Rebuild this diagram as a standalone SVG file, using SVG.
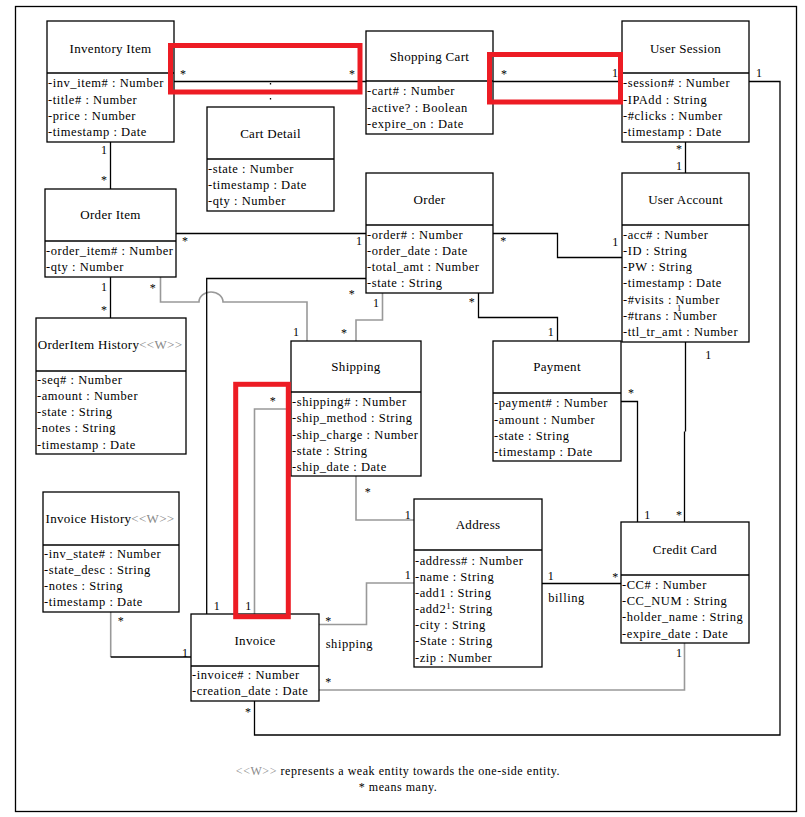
<svg xmlns="http://www.w3.org/2000/svg" width="805" height="817" viewBox="0 0 805 817" font-family="'Liberation Serif', 'Times New Roman', serif">
<style>
text{font-family:"Liberation Serif","Times New Roman",serif;fill:#000}
.ti{font-size:13px;text-anchor:middle;letter-spacing:0.3px}
.a{font-size:12.5px;letter-spacing:0.55px}
.l{font-size:12px;text-anchor:middle}
.w{fill:#8a8a8a}
.box{fill:#fff;stroke:#000;stroke-width:1.3}
.dv{stroke:#000;stroke-width:1.3}
.c{fill:none;stroke:#000;stroke-width:1.3}
.g{fill:none;stroke:#999;stroke-width:1.6}
.red{fill:none;stroke:#ED1C24;stroke-width:5}
</style>
<rect x="15.5" y="6.5" width="781" height="805" fill="#fff" stroke="#000" stroke-width="1.3"/>

<g id="connectors">
<path class="c" d="M174 81.5H366"/>
<path class="c" d="M270.5 83V107" stroke-dasharray="1.5 13.5"/>
<path class="c" d="M493 81.5H622"/>
<path class="c" d="M685.5 142V173"/>
<path class="c" d="M110.5 142V189"/>
<path class="c" d="M176 233.5H366"/>
<path class="c" d="M110.5 277V318"/>
<path class="g" d="M160.5 277V302H199A12 10 0 0 1 223 302H307V341"/>
<path class="c" d="M366 278.5H206.7V614"/>
<path class="g" d="M382.5 293V320H356V341"/>
<path class="g" d="M291 409H254.5V614"/>
<path class="c" d="M478.5 293V317.5H557.5V341"/>
<path class="c" d="M493 233.5H557.5V257.5H622"/>
<path class="c" d="M685.5 342V431.5M684.5 431.5V522"/>
<path class="c" d="M621 401.5H637.5V522"/>
<path class="g" d="M356 476V520H414"/>
<path class="g" d="M414 583H366.5V624.5H319"/>
<path class="c" d="M542 583.5H621"/>
<path class="g" d="M684.5 643V690H319"/>
<path class="g" d="M110.7 612V657"/>
<path class="c" d="M110.7 657H191"/>
<path class="c" d="M254.5 701V735H780V81.5H749"/>
<g id="connector-labels">
<text class="l" x="183" y="78">*</text>
<text class="l" x="352" y="78">*</text>
<text class="l" x="504" y="78">*</text>
<text class="l" x="615" y="77">1</text>
<text class="l" x="679" y="153">*</text>
<text class="l" x="679" y="170">1</text>
<text class="l" x="104" y="154">1</text>
<text class="l" x="104" y="184">*</text>
<text class="l" x="185" y="245">*</text>
<text class="l" x="359" y="245">1</text>
<text class="l" x="104" y="291">1</text>
<text class="l" x="104" y="314">*</text>
<text class="l" x="152.7" y="292">*</text>
<text class="l" x="296" y="336">1</text>
<text class="l" x="351.7" y="298">*</text>
<text class="l" x="216.7" y="610">1</text>
<text class="l" x="376" y="307">1</text>
<text class="l" x="344" y="337">*</text>
<text class="l" x="272.7" y="405">*</text>
<text class="l" x="248.3" y="610">1</text>
<text class="l" x="471.7" y="306">*</text>
<text class="l" x="550.7" y="336">1</text>
<text class="l" x="503.3" y="245">*</text>
<text class="l" x="615.3" y="246">1</text>
<text class="l" x="708.3" y="359">1</text>
<text class="l" x="679" y="519">*</text>
<text class="l" x="631" y="397">*</text>
<text class="l" x="647.3" y="519">1</text>
<text class="l" x="367.7" y="496">*</text>
<text class="l" x="407.7" y="518.5">1</text>
<text class="l" x="407.7" y="579">1</text>
<text class="l" x="328.3" y="625">*</text>
<text class="a" x="325.7" y="648">shipping</text>
<text class="l" x="550.7" y="580">1</text>
<text class="l" x="615.3" y="581">*</text>
<text class="a" x="548.3" y="602">billing</text>
<text class="l" x="679" y="656.5">1</text>
<text class="l" x="328.3" y="686">*</text>
<text class="l" x="120.7" y="625">*</text>
<text class="l" x="185" y="656.5">1</text>
<text class="l" x="248" y="716">*</text>
<text class="l" x="759" y="77">1</text>
</g>
</g>

<g id="inventory-item">
<rect class="box" x="47" y="21" width="127" height="121"/>
<line class="dv" x1="47" y1="73" x2="174" y2="73"/>
<text class="ti" x="110.5" y="52.5">Inventory Item</text>
<text class="a" x="48" y="87">-inv_item# : Number</text>
<text class="a" x="48" y="103.5">-title# : Number</text>
<text class="a" x="48" y="119.5">-price : Number</text>
<text class="a" x="48" y="136">-timestamp : Date</text>
</g>

<g id="shopping-cart">
<rect class="box" x="366" y="31" width="127" height="103"/>
<line class="dv" x1="366" y1="81" x2="493" y2="81"/>
<text class="ti" x="429.5" y="60.5">Shopping Cart</text>
<text class="a" x="367" y="95">-cart# : Number</text>
<text class="a" x="367" y="111.5">-active? : Boolean</text>
<text class="a" x="367" y="128">-expire_on : Date</text>
</g>

<g id="cart-detail">
<rect class="box" x="207" y="107" width="127" height="104"/>
<line class="dv" x1="207" y1="159" x2="334" y2="159"/>
<text class="ti" x="270.5" y="137.5">Cart Detail</text>
<text class="a" x="208" y="173">-state : Number</text>
<text class="a" x="208" y="189">-timestamp : Date</text>
<text class="a" x="208" y="205">-qty : Number</text>
</g>

<g id="user-session">
<rect class="box" x="622" y="21" width="127" height="121"/>
<line class="dv" x1="622" y1="73" x2="749" y2="73"/>
<text class="ti" x="685.5" y="52.5">User Session</text>
<text class="a" x="623" y="87">-session# : Number</text>
<text class="a" x="623" y="103.5">-IPAdd : String</text>
<text class="a" x="623" y="119.5">-#clicks : Number</text>
<text class="a" x="623" y="136">-timestamp : Date</text>
</g>

<g id="user-account">
<rect class="box" x="622" y="173" width="127" height="169"/>
<line class="dv" x1="622" y1="225" x2="749" y2="225"/>
<text class="ti" x="685.5" y="203.5">User Account</text>
<text class="a" x="623" y="239">-acc# : Number</text>
<text class="a" x="623" y="255">-ID : String</text>
<text class="a" x="623" y="271">-PW : String</text>
<text class="a" x="623" y="287">-timestamp : Date</text>
<text class="a" x="623" y="303.5">-#visits : Number</text>
<text class="a" x="623" y="320">-#trans : Number</text>
<text class="a" x="623" y="336">-ttl_tr_amt : Number</text>
<text x="679" y="311" font-size="8.5" text-anchor="middle">1</text>
</g>

<g id="order-item">
<rect class="box" x="45" y="189" width="131" height="88"/>
<line class="dv" x1="45" y1="241" x2="176" y2="241"/>
<text class="ti" x="110.5" y="219">Order Item</text>
<text class="a" x="46" y="255">-order_item# : Number</text>
<text class="a" x="46" y="271">-qty : Number</text>
</g>

<g id="orderitem-history">
<rect class="box" x="36" y="318" width="150" height="136"/>
<line class="dv" x1="36" y1="371" x2="186" y2="371"/>
<text class="ti" x="110" y="348.5">OrderItem History<tspan class="w">&lt;&lt;W&gt;&gt;</tspan></text>
<text class="a" x="37" y="384">-seq# : Number</text>
<text class="a" x="37" y="400">-amount : Number</text>
<text class="a" x="37" y="416">-state : String</text>
<text class="a" x="37" y="432">-notes : String</text>
<text class="a" x="37" y="448.5">-timestamp : Date</text>
</g>

<g id="order">
<rect class="box" x="366" y="173" width="127" height="120"/>
<line class="dv" x1="366" y1="225" x2="493" y2="225"/>
<text class="ti" x="429.5" y="203.5">Order</text>
<text class="a" x="367" y="239">-order# : Number</text>
<text class="a" x="367" y="255">-order_date : Date</text>
<text class="a" x="367" y="271">-total_amt : Number</text>
<text class="a" x="367" y="287">-state : String</text>
</g>

<g id="shipping">
<rect class="box" x="291" y="341" width="130" height="135"/>
<line class="dv" x1="291" y1="392" x2="421" y2="392"/>
<text class="ti" x="356" y="371">Shipping</text>
<text class="a" x="292" y="405.5">-shipping# : Number</text>
<text class="a" x="292" y="422">-ship_method : String</text>
<text class="a" x="292" y="438.5">-ship_charge : Number</text>
<text class="a" x="292" y="455">-state : String</text>
<text class="a" x="292" y="471">-ship_date : Date</text>
</g>

<g id="payment">
<rect class="box" x="493" y="341" width="128" height="120"/>
<line class="dv" x1="493" y1="393" x2="621" y2="393"/>
<text class="ti" x="557" y="371">Payment</text>
<text class="a" x="494" y="407">-payment# : Number</text>
<text class="a" x="494" y="423.5">-amount : Number</text>
<text class="a" x="494" y="440">-state : String</text>
<text class="a" x="494" y="456">-timestamp : Date</text>
</g>

<g id="credit-card">
<rect class="box" x="621" y="522" width="128" height="121"/>
<line class="dv" x1="621" y1="575" x2="749" y2="575"/>
<text class="ti" x="685" y="553.5">Credit Card</text>
<text class="a" x="622" y="589">-CC# : Number</text>
<text class="a" x="622" y="605">-CC_NUM : String</text>
<text class="a" x="622" y="621">-holder_name : String</text>
<text class="a" x="622" y="637.5">-expire_date : Date</text>
</g>

<g id="address">
<rect class="box" x="414" y="499" width="128" height="168"/>
<line class="dv" x1="414" y1="550" x2="542" y2="550"/>
<text class="ti" x="478" y="529">Address</text>
<text class="a" x="415" y="564.5">-address# : Number</text>
<text class="a" x="415" y="581">-name : String</text>
<text class="a" x="415" y="597">-add1 : String</text>
<text class="a" x="415" y="613">-add2<tspan font-size="9" dy="-4">1</tspan><tspan dy="4">: String</tspan></text>
<text class="a" x="415" y="629">-city : String</text>
<text class="a" x="415" y="645">-State : String</text>
<text class="a" x="415" y="661.5">-zip : Number</text>
</g>

<g id="invoice">
<rect class="box" x="191" y="614" width="128" height="87"/>
<line class="dv" x1="191" y1="666" x2="319" y2="666"/>
<text class="ti" x="255" y="644.5">Invoice</text>
<text class="a" x="192" y="679">-invoice# : Number</text>
<text class="a" x="192" y="695">-creation_date : Date</text>
</g>

<g id="invoice-history">
<rect class="box" x="43" y="492" width="136" height="120"/>
<line class="dv" x1="43" y1="545" x2="179" y2="545"/>
<text class="ti" x="110" y="522.5">Invoice History<tspan class="w">&lt;&lt;W&gt;&gt;</tspan></text>
<text class="a" x="44" y="558">-inv_state# : Number</text>
<text class="a" x="44" y="574">-state_desc : String</text>
<text class="a" x="44" y="590">-notes : String</text>
<text class="a" x="44" y="606">-timestamp : Date</text>
</g>

<g id="legend">
<text x="398" y="775" font-size="12" text-anchor="middle" letter-spacing="0.55"><tspan class="w">&lt;&lt;W&gt;&gt;</tspan> represents a weak entity towards the one-side entity.</text>
<text x="398" y="791" font-size="12" text-anchor="middle" letter-spacing="0.55">* means many.</text>
</g>

<g id="highlights">
<rect class="red" x="170.5" y="45.5" width="189.5" height="46.5"/>
<rect class="red" x="489.5" y="54.5" width="131" height="47.5"/>
<rect class="red" x="235.7" y="384.3" width="52.6" height="232.4" stroke-width="4.7"/>
</g>
</svg>
